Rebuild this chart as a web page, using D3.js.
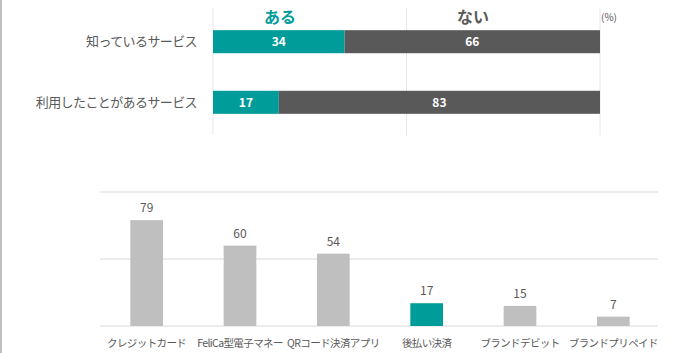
<!DOCTYPE html>
<html>
<head>
<meta charset="utf-8">
<script src="https://cdn.jsdelivr.net/npm/d3@7"></script>
<style>
  body { margin: 0; background: #fff; }
  svg { display: block; font-family: "Noto Sans CJK JP", "Noto Sans", sans-serif; }
</style>
</head>
<body>
<div id="chart"></div>
<script>
// top chart data
const stackCats = ["知っているサービス", "利用したことがあるサービス"];
const yesVals = [34, 17];
const noVals = [66, 83];
const stackHeads = ["ある", "ない"];

// bottom chart data
const methods = ["クレジットカード", "FeliCa型電子マネー", "QRコード決済アプリ", "後払い決済", "ブランドデビット", "ブランドプリペイド"];
const usage = [79, 60, 54, 17, 15, 7];
const highlight = "後払い決済";

const teal = "#009C9A",
    dark = "#595959",
    light = "#BFBFBF",
    grid = "#D9D9D9";

const svg = d3.select("#chart")
    .append("svg")
    .attr("width", 700)
    .attr("height", 353);

// left border line
svg.append("line")
    .attr("x1", 1).attr("x2", 1)
    .attr("y1", 0).attr("y2", 353)
    .attr("stroke", "#C0C0C0")
    .attr("stroke-width", 2);

//---------------- top stacked bars ----------------
const x1 = d3.scaleLinear().domain([0, 100]).range([213, 600]);
const y1 = d3.scaleBand().domain(stackCats).range([12, 132]).paddingInner(0.62).paddingOuter(0.3);

// vertical gridlines
svg.append("g")
    .selectAll("line")
    .data([0, 50, 100])
    .join("line")
    .attr("x1", d => x1(d)).attr("x2", d => x1(d))
    .attr("y1", 8).attr("y2", 135)
    .attr("stroke", "#E6E6E6")
    .attr("stroke-width", 1);

const rows = stackCats.map((c, i) => ({cat: c, yes: yesVals[i], no: noVals[i]}));

svg.append("g")
    .selectAll("rect")
    .data(rows)
    .join("rect")
    .attr("x", x1(0))
    .attr("y", d => y1(d.cat))
    .attr("width", d => x1(d.yes) - x1(0))
    .attr("height", y1.bandwidth())
    .attr("fill", teal);

svg.append("g")
    .selectAll("rect")
    .data(rows)
    .join("rect")
    .attr("x", d => x1(d.yes))
    .attr("y", d => y1(d.cat))
    .attr("width", d => x1(d.yes + d.no) - x1(d.yes))
    .attr("height", y1.bandwidth())
    .attr("fill", dark);

// value labels inside the bars
svg.append("g")
    .selectAll("text")
    .data(rows)
    .join("text")
    .attr("x", d => x1(d.yes / 2))
    .attr("y", d => y1(d.cat) + y1.bandwidth() / 2)
    .attr("dy", "0.36em")
    .attr("text-anchor", "middle")
    .attr("fill", "#fff")
    .attr("font-weight", "bold")
    .attr("font-size", "12px")
    .text(d => d.yes);

svg.append("g")
    .selectAll("text")
    .data(rows)
    .join("text")
    .attr("x", d => x1(d.yes + d.no / 2))
    .attr("y", d => y1(d.cat) + y1.bandwidth() / 2)
    .attr("dy", "0.36em")
    .attr("text-anchor", "middle")
    .attr("fill", "#fff")
    .attr("font-weight", "bold")
    .attr("font-size", "12px")
    .text(d => d.no);

// category labels
svg.append("g")
    .selectAll("text")
    .data(stackCats)
    .join("text")
    .attr("x", 197)
    .attr("y", d => y1(d) + y1.bandwidth() / 2)
    .attr("dy", "0.36em")
    .attr("text-anchor", "end")
    .attr("fill", dark)
    .attr("font-size", "13px")
    .attr("letter-spacing", "-0.6px")
    .text(d => d);

// column heads
svg.append("text")
    .attr("x", 280)
    .attr("y", 23)
    .attr("text-anchor", "middle")
    .attr("fill", teal)
    .attr("font-weight", "bold")
    .attr("font-size", "16px")
    .text(stackHeads[0]);

svg.append("text")
    .attr("x", 473)
    .attr("y", 23)
    .attr("text-anchor", "middle")
    .attr("fill", dark)
    .attr("font-weight", "bold")
    .attr("font-size", "16px")
    .text(stackHeads[1]);

svg.append("text")
    .attr("x", 601)
    .attr("y", 21)
    .attr("fill", dark)
    .attr("font-size", "10px")
    .text("(%)");

//---------------- bottom column chart ----------------
const x2 = d3.scaleBand().domain(methods).range([100, 660]).paddingInner(0.65).paddingOuter(0.325);
const y2 = d3.scaleLinear().domain([0, 100]).range([326, 192]);

svg.append("g")
    .selectAll("line")
    .data(y2.ticks(2))
    .join("line")
    .attr("x1", 100).attr("x2", 658)
    .attr("y1", d => y2(d)).attr("y2", d => y2(d))
    .attr("stroke", grid)
    .attr("stroke-width", 1);

svg.append("g")
    .selectAll("rect")
    .data(methods)
    .join("rect")
    .attr("x", d => x2(d))
    .attr("y", (d, i) => y2(usage[i]))
    .attr("width", x2.bandwidth())
    .attr("height", (d, i) => y2(0) - y2(usage[i]))
    .attr("fill", d => d === highlight ? teal : light);

svg.append("g")
    .selectAll("text")
    .data(methods)
    .join("text")
    .attr("x", d => x2(d) + x2.bandwidth() / 2)
    .attr("y", (d, i) => y2(usage[i]) - 8)
    .attr("text-anchor", "middle")
    .attr("fill", dark)
    .attr("font-size", "12px")
    .text((d, i) => usage[i]);

svg.append("g")
    .selectAll("text")
    .data(methods)
    .join("text")
    .attr("x", d => x2(d) + x2.bandwidth() / 2)
    .attr("y", 347)
    .attr("text-anchor", "middle")
    .attr("fill", dark)
    .attr("font-size", "10.5px")
    .attr("letter-spacing", "-0.6px")
    .text(d => d);
</script>
</body>
</html>
